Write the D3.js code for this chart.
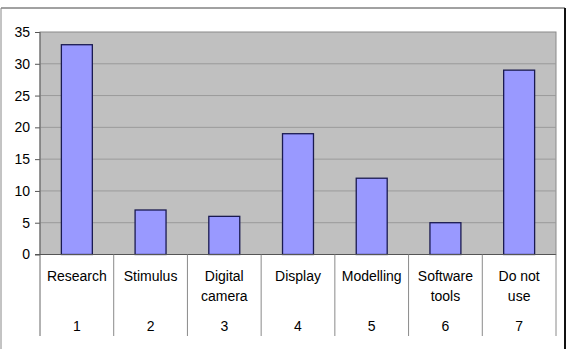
<!DOCTYPE html>
<html>
  <head>
    <meta charset="utf-8">
    <script src="https://cdn.jsdelivr.net/npm/d3@7"></script>
    <style>
        body { margin:0; background:#fff; }
        svg { display:block; font-family:"Liberation Sans", Arial, sans-serif; }
    </style>
  </head>
  <body>
    <script>
      // chart data
      var categories = ["Research", "Stimulus", "Digital\ncamera", "Display", "Modelling", "Software\ntools", "Do not\nuse"];
      var numbers = ["1", "2", "3", "4", "5", "6", "7"];
      var counts = [33, 7, 6, 19, 12, 5, 29];
      var yTicks = [0, 5, 10, 15, 20, 25, 30, 35];

      var width = 567, height = 349;
      var plot = {left: 40, right: 556, top: 32, bottom: 254.5};

      var svg = d3.select("body").append("svg")
          .attr("width", width)
          .attr("height", height);

      // outer frame
      svg.append("line").attr("x1", 1).attr("x2", 565).attr("y1", 8).attr("y2", 8)
          .attr("stroke", "#444").attr("stroke-width", 1);
      svg.append("line").attr("x1", 1).attr("x2", 1).attr("y1", 8).attr("y2", height)
          .attr("stroke", "#888").attr("stroke-width", 1);
      svg.append("line").attr("x1", 565).attr("x2", 565).attr("y1", 8).attr("y2", height)
          .attr("stroke", "#111").attr("stroke-width", 2);

      var x = d3.scaleBand()
          .domain(d3.range(categories.length))
          .range([plot.left, plot.right])
          .paddingInner(0.58)
          .paddingOuter(0.29);

      var y = d3.scaleLinear()
          .domain([0, 35])
          .range([plot.bottom, plot.top]);

      // plot background
      svg.append("rect")
          .attr("x", plot.left).attr("y", plot.top)
          .attr("width", plot.right - plot.left).attr("height", plot.bottom - plot.top)
          .attr("fill", "#c0c0c0")
          .attr("stroke", "#8a8a8a").attr("stroke-width", 1);

      // gridlines
      svg.selectAll(".grid")
          .data(yTicks.slice(1, -1))
          .enter().append("line")
          .attr("x1", plot.left).attr("x2", plot.right)
          .attr("y1", function(d){ return y(d); })
          .attr("y2", function(d){ return y(d); })
          .attr("stroke", "#9a9a9a").attr("stroke-width", 1);

      // bars
      svg.selectAll(".bar")
          .data(counts)
          .enter().append("rect")
          .attr("x", function(d, i){ return x(i); })
          .attr("y", function(d){ return y(d); })
          .attr("width", x.bandwidth())
          .attr("height", function(d){ return y(0) - y(d); })
          .attr("fill", "#9999ff")
          .attr("stroke", "#1a1a50").attr("stroke-width", 1.3);

      // y axis
      var yAxis = svg.append("g")
          .attr("transform", "translate(" + plot.left + ",0)")
          .call(d3.axisLeft(y).tickValues(yTicks).tickSize(5).tickPadding(5));
      yAxis.select(".domain").remove();
      yAxis.selectAll(".tick line").attr("stroke", "#555");
      yAxis.selectAll("text").attr("font-size", 14).attr("fill", "#000")
          .attr("font-family", "Liberation Sans, Arial, sans-serif");
      svg.append("line")
          .attr("x1", plot.left).attr("x2", plot.left)
          .attr("y1", plot.top).attr("y2", 336)
          .attr("stroke", "#666");

      // x axis baseline
      svg.append("line")
          .attr("x1", plot.left - 5).attr("x2", plot.right)
          .attr("y1", y(0)).attr("y2", y(0))
          .attr("stroke", "#555");

      // category separators
      var bounds = d3.range(categories.length + 1).map(function(i){ return plot.left + i * (plot.right - plot.left) / categories.length; });
      svg.selectAll(".sep")
          .data(bounds.slice(1))
          .enter().append("line")
          .attr("x1", function(d){ return d; }).attr("x2", function(d){ return d; })
          .attr("y1", y(0)).attr("y2", 336)
          .attr("stroke", "#8a8a8a");

      // category labels
      var lbl = svg.selectAll(".cat")
          .data(categories)
          .enter().append("text")
          .attr("text-anchor", "middle")
          .attr("font-size", 14)
          .attr("fill", "#000");
      lbl.each(function(d, i){
          var cx = x(i) + x.bandwidth() / 2;
          d3.select(this).selectAll("tspan")
              .data(d.split("\n"))
              .enter().append("tspan")
              .attr("x", cx)
              .attr("y", function(t, j){ return 281 + j * 19.5; })
              .text(function(t){ return t; });
      });

      svg.selectAll(".num")
          .data(numbers)
          .enter().append("text")
          .attr("text-anchor", "middle")
          .attr("font-size", 14)
          .attr("x", function(d, i){ return x(i) + x.bandwidth() / 2; })
          .attr("y", 331)
          .text(function(d){ return d; });
    </script>
  </body>
</html>
